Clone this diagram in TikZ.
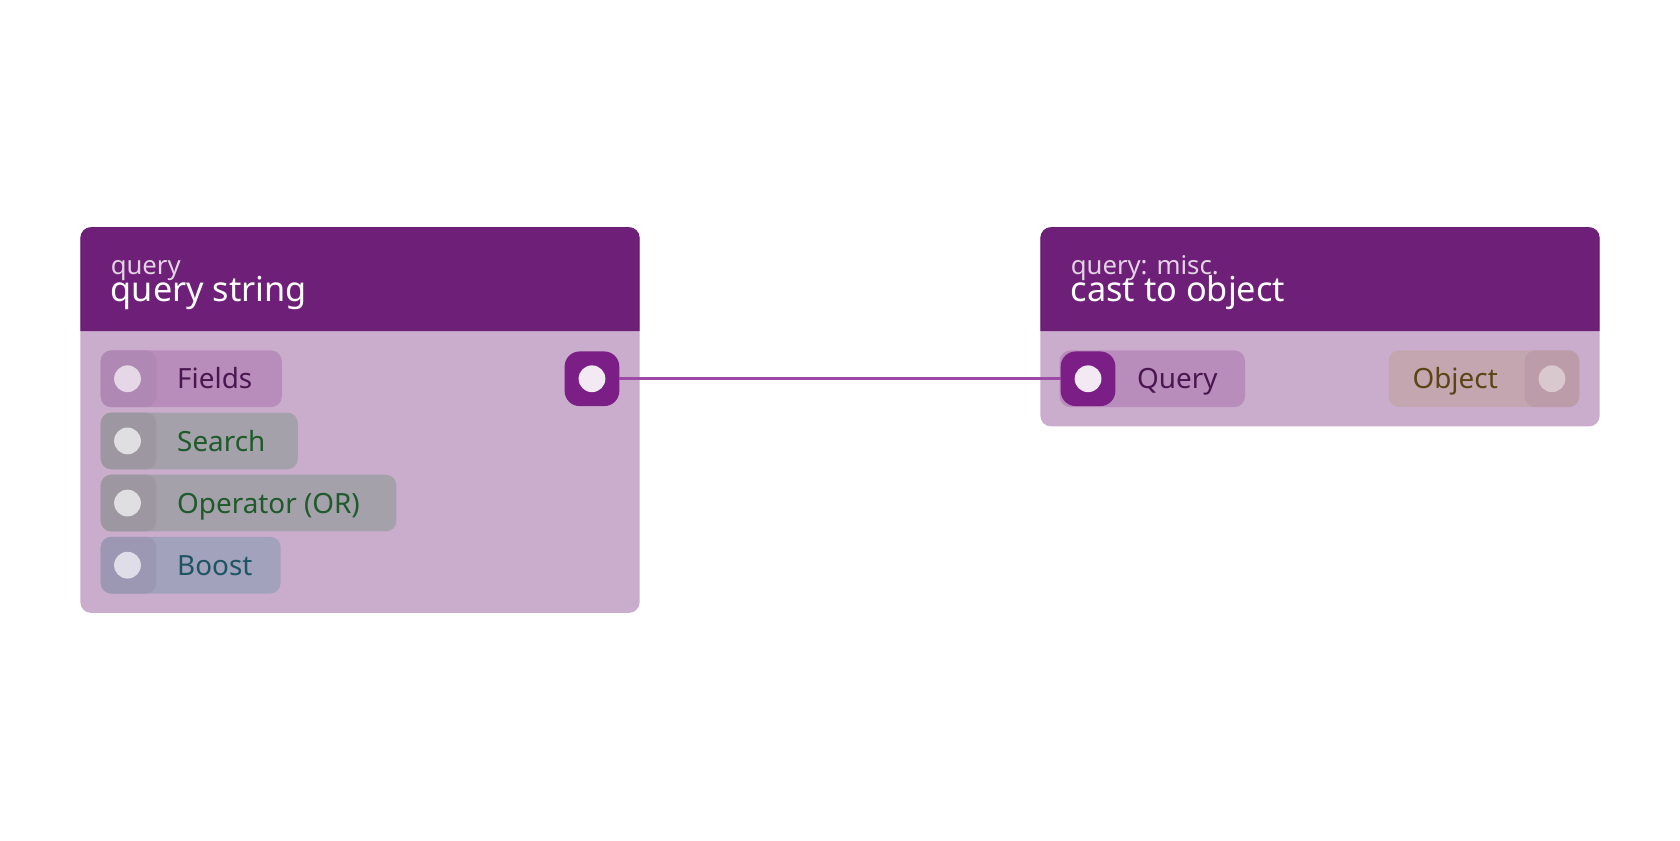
\documentclass[tikz,border=0pt]{standalone}
\usepackage{fontspec}
\setmainfont{Noto Sans}
\begin{document}
\begin{tikzpicture}[x=0.5pt,y=-0.5pt,
  pill/.style={rounded corners=5pt,draw=none},
  lbl/.style={anchor=base west,inner sep=0,font=\fontsize{13}{15}\selectfont},
  dot/.style={circle,fill=#1,inner sep=0,minimum size=12.5pt,draw=none}]
\definecolor{hdrc}{HTML}{6E1F77}
\definecolor{bodyc}{HTML}{CAADCD}
\definecolor{portc}{HTML}{7B1F86}
\definecolor{edgec}{HTML}{9B4AA6}
\definecolor{qpill}{HTML}{B98DBB}
\definecolor{qtext}{HTML}{4A1650}
\definecolor{opill}{HTML}{C4A6B0}
\definecolor{oport}{HTML}{BC9CA8}
\definecolor{odot}{HTML}{D9C9CE}
\definecolor{otext}{HTML}{5C4416}
\useasboundingbox (0,0) rectangle (1568,784);
\fill[white] (0,0) rectangle (1568,784);
% left node
\fill[bodyc,rounded corners=5pt] (75,212) rectangle (597,572);
\fill[hdrc] (75,309) [rounded corners=5pt] -- (75,212) -- (597,212) [sharp corners] -- (597,309) -- cycle;
\node[anchor=base west,inner sep=0,text=white!80!hdrc,font=\fontsize{12}{14}\selectfont] (t1) at (103,256) {query};
\node[anchor=base west,inner sep=0,text=white,font=\fontsize{16}{18}\selectfont] (n1) at (103,281) {query string};
% rows
\foreach \y/\w/\pc/\sc/\tc/\txt/\nm in {327/263/B98DBB/B088B4/4A1650/Fields/f,385/278/A4A1AB/9D97A2/1E5A2A/Search/s,443/370/A4A1AB/9D97A2/1E5A2A/Operator (OR)/o,501/262/A3A2BD/9C98B3/1D5563/Boost/b}{
  \definecolor{pc}{HTML}{\pc}\definecolor{sc}{HTML}{\sc}\definecolor{tc}{HTML}{\tc}
  \fill[pc,pill] (94,\y) rectangle (\w,\y+53);
  \fill[sc,pill] (94,\y) rectangle (146,\y+53);
  \node[dot=white!65!pc] (p\nm) at (119,\y+26.5) {};
  \node[lbl,text=tc] (l\nm) at (165,\y+36) {\txt};
}
\fill[portc,rounded corners=7pt] (527,328) rectangle (578,379);
\node[dot=white!90!portc] (out) at (552.5,353.5) {};
\coordinate (outE) at (578,353.5);
% right node
\fill[bodyc,rounded corners=5pt] (971,212) rectangle (1493,398);
\fill[hdrc] (971,309) [rounded corners=5pt] -- (971,212) -- (1493,212) [sharp corners] -- (1493,309) -- cycle;
\node[anchor=base west,inner sep=0,text=white!80!hdrc,font=\fontsize{12}{14}\selectfont] (t2) at (999,256) {query: misc.};
\node[anchor=base west,inner sep=0,text=white,font=\fontsize{16}{18}\selectfont] (n2) at (999,281) {cast to object};
\fill[qpill,pill] (989,327) rectangle (1162,380);
\fill[portc,rounded corners=7pt] (990,328) rectangle (1041,379);
\node[dot=white!90!portc] (in) at (1015.5,353.5) {};
\coordinate (inW) at (990,353.5);
\node[lbl,text=qtext] (lq) at (1061,362.5) {Query};
\fill[opill,pill] (1296,327) rectangle (1474,380);
\fill[oport,pill] (1423,327) rectangle (1474,380);
\node[dot=odot] (obj) at (1448.5,353.5) {};
\node[lbl,text=otext] (lo) at (1318,362.5) {Object};
\draw[edgec,line width=1.5pt] (outE) -- (inW);
\end{tikzpicture}
\end{document}
